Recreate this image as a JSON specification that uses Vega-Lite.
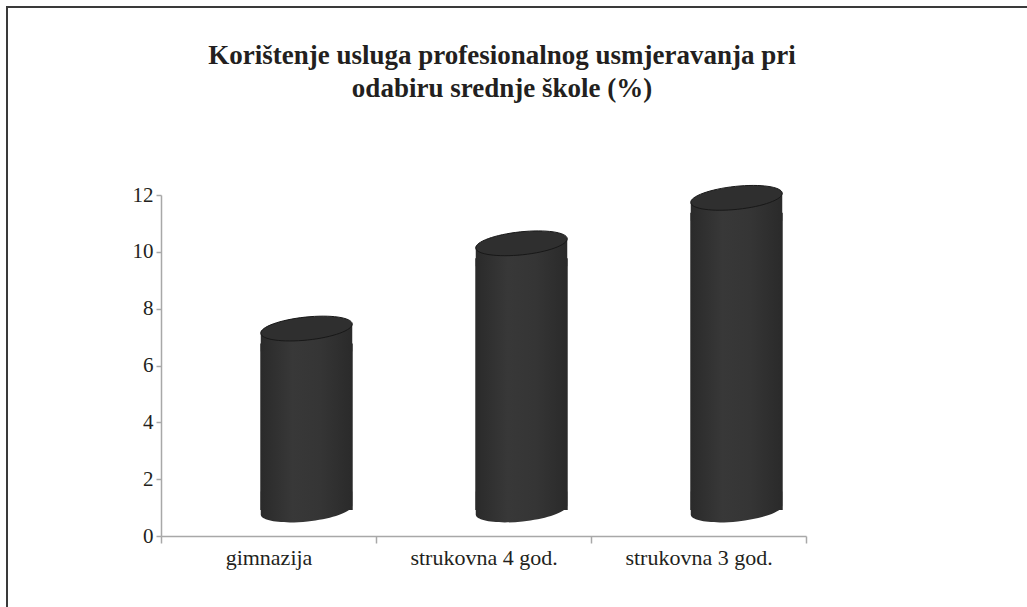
{
  "$schema": "https://vega.github.io/schema/vega-lite/v6.json",
  "width": 1020,
  "height": 600,
  "padding": {"left": 7, "top": 7, "right": 0, "bottom": 0},
  "autosize": {"type": "none"},
  "background": "white",
  "title": {
    "text": ["Korištenje usluga profesionalnog usmjeravanja pri", "odabiru srednje škole (%)"],
    "anchor": "middle",
    "frame": "group",
    "font": "Liberation Serif",
    "fontSize": 27,
    "fontWeight": "bold",
    "color": "#231f20",
    "lineHeight": 33,
    "baseline": "top",
    "offset": -96,
    "dx": -15
  },
  "data": {
    "values": [
      {"tip": "gimnazija", "postotak": 7.3},
      {"tip": "strukovna 4 god.", "postotak": 10.3},
      {"tip": "strukovna 3 god.", "postotak": 11.9}
    ]
  },
  "encoding": {
    "x": {
      "field": "tip",
      "type": "nominal",
      "sort": null,
      "scale": {"range": [154, 799], "paddingInner": 0, "paddingOuter": 0},
      "axis": {"title": null}
    }
  },
  "layer": [
    {
      "mark": {
        "type": "point",
        "shape": "M0.9945,-0.1045C1.009,0.0327,0.5751,0.1909,0.0261,0.2486C-0.5228,0.3063,-0.9801,0.2418,-0.9945,0.1045L-0.9945,-0.4L0.9945,-0.4Z",
        "size": 8464,
        "filled": true,
        "fill": {
          "gradient": "linear",
          "x1": 0, "x2": 1, "y1": 0, "y2": 0,
          "stops": [
            {"offset": 0, "color": "#2a2a2a"},
            {"offset": 0.35, "color": "#383838"},
            {"offset": 0.65, "color": "#353535"},
            {"offset": 1, "color": "#2a2a2a"}
          ]
        },
        "strokeWidth": 0,
        "opacity": 1,
        "xOffset": 38,
        "yOffset": -26
      },
      "encoding": {
        "y": {"datum": 0, "type": "quantitative", "scale": {"domain": [0, 12], "range": [529, 188], "nice": false, "zero": true}, "axis": {"title": null, "values": [0, 2, 4, 6, 8, 10, 12]}}
      }
    },
    {
      "mark": {
        "type": "bar",
        "width": {"band": 0.43},
        "xOffset": 38,
        "yOffset": 15,
        "y2Offset": -26,
        "fill": {
          "gradient": "linear",
          "x1": 0, "x2": 1, "y1": 0, "y2": 0,
          "stops": [
            {"offset": 0, "color": "#2a2a2a"},
            {"offset": 0.35, "color": "#383838"},
            {"offset": 0.65, "color": "#353535"},
            {"offset": 1, "color": "#2a2a2a"}
          ]
        }
      },
      "encoding": {
        "y": {"field": "postotak", "type": "quantitative", "axis": {"title": null, "values": [0, 2, 4, 6, 8, 10, 12]}},
        "y2": {"datum": 0}
      }
    },
    {
      "mark": {
        "type": "point",
        "shape": "M-0.9945,0.1045L0.9945,-0.1045L0.9945,0.5L-0.9945,0.5Z",
        "size": 8464,
        "filled": true,
        "fill": {
          "gradient": "linear",
          "x1": 0, "x2": 1, "y1": 0, "y2": 0,
          "stops": [
            {"offset": 0, "color": "#2a2a2a"},
            {"offset": 0.35, "color": "#383838"},
            {"offset": 0.65, "color": "#353535"},
            {"offset": 1, "color": "#2a2a2a"}
          ]
        },
        "strokeWidth": 0,
        "opacity": 1,
        "xOffset": 38
      },
      "encoding": {
        "y": {"field": "postotak", "type": "quantitative", "axis": {"title": null, "values": [0, 2, 4, 6, 8, 10, 12]}}
      }
    },
    {
      "mark": {
        "type": "point",
        "shape": "M-0.9945,0.1045C-1.009,-0.0327,-0.5751,-0.1909,-0.0261,-0.2486C0.5228,-0.3063,0.9801,-0.2418,0.9945,-0.1045C1.009,0.0327,0.5751,0.1909,0.0261,0.2486C-0.5228,0.3063,-0.9801,0.2418,-0.9945,0.1045Z",
        "size": 8464,
        "filled": true,
        "fill": "#2f2f2f",
        "stroke": "#181818",
        "strokeWidth": 1,
        "opacity": 1,
        "xOffset": 38
      },
      "encoding": {
        "y": {"field": "postotak", "type": "quantitative", "axis": {"title": null, "values": [0, 2, 4, 6, 8, 10, 12]}}
      }
    }
  ],
  "config": {
    "view": {"stroke": "#3a3a3a", "strokeWidth": 2, "strokeDash": [1020, 1620, 600, 10]},
    "axisX": {
      "offset": -71,
      "labelAngle": 0,
      "tickBand": "extent",
      "tickSize": 7,
      "domainColor": "#a8a8a8",
      "tickColor": "#a8a8a8",
      "domainWidth": 1.5,
      "tickWidth": 1.5,
      "labelFont": "Liberation Serif",
      "labelFontSize": 22,
      "labelColor": "#231f20",
      "labelPadding": 4,
      "grid": false
    },
    "axisY": {
      "offset": -154,
      "tickSize": 5,
      "domainColor": "#a8a8a8",
      "tickColor": "#a8a8a8",
      "domainWidth": 1.5,
      "tickWidth": 1.5,
      "labelFont": "Liberation Serif",
      "labelFontSize": 21,
      "labelColor": "#231f20",
      "labelPadding": 3,
      "grid": false
    }
  }
}
